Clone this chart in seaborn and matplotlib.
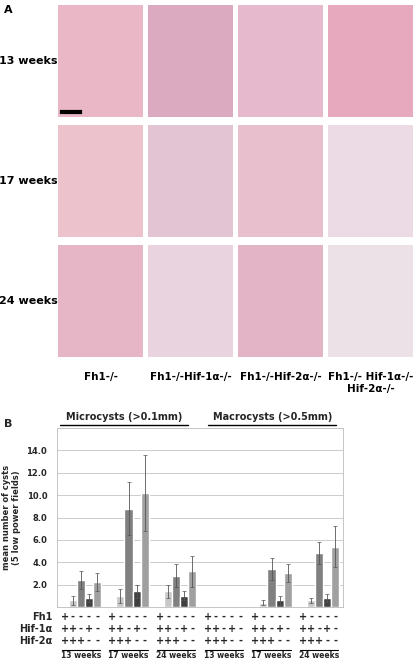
import matplotlib
matplotlib.use("Agg")
import matplotlib.pyplot as plt
import matplotlib.transforms as mtransforms
import numpy as np
import pandas as pd
import seaborn as sns

# panel A labels
row_labels = ["13 weeks", "17 weeks", "24 weeks"]
col_labels = ["Fh1-/-", "Fh1-/-Hif-1\u03b1-/-", "Fh1-/-Hif-2\u03b1-/-", "Fh1-/- Hif-1\u03b1-/-\nHif-2\u03b1-/-"]

# panel B data
groups = ["13w micro", "17w micro", "24w micro", "13w macro", "17w macro", "24w macro"]
week_labels = ["13 weeks", "17 weeks", "24 weeks", "13 weeks", "17 weeks", "24 weeks"]
genotypes = ["g1", "g2", "g3", "g4", "g5"]
fh1_signs = ["+", "-", "-", "-", "-"]
hif1_signs = ["+", "+", "-", "+", "-"]
hif2_signs = ["+", "+", "+", "-", "-"]
means = [
    [0, 0.6, 2.4, 0.8, 2.2],
    [0, 1.0, 8.8, 1.4, 10.2],
    [0, 1.4, 2.8, 1.0, 3.2],
    [0, 0, 0, 0, 0],
    [0, 0.4, 3.4, 0.6, 3.0],
    [0, 0.6, 4.8, 0.8, 5.4],
]
errs = [
    [0, 0.4, 0.8, 0.35, 0.8],
    [0, 0.6, 2.4, 0.6, 3.4],
    [0, 0.6, 1.0, 0.4, 1.4],
    [0, 0, 0, 0, 0],
    [0, 0.2, 1.0, 0.4, 0.8],
    [0, 0.2, 1.0, 0.35, 1.8],
]
bar_colors = ["#ffffff", "#c8c8c8", "#808080", "#404040", "#a0a0a0"]
tissue_colors = [["#e9b7c6", "#dba9c0", "#e6b9cc", "#e7a9bd"],
                 ["#ecc3cd", "#e2c4d3", "#e8bfcd", "#ecdbe4"],
                 ["#e6b5c6", "#e8d3de", "#e3b3c6", "#ede1e8"]]

rows = []
for g, m_row, e_row in zip(groups, means, errs):
    for gt, m, e in zip(genotypes, m_row, e_row):
        rows.append({"group": g, "genotype": gt, "mean": m, "err": e})
df = pd.DataFrame(rows)

fig = plt.figure(figsize=(4.15, 6.59), dpi=100)
W, H = 415, 659

def fx(px):
    return px / W

def fy(py):
    return 1 - py / H

# ---- panel A ----
fig.text(fx(4), fy(10), "A", fontsize=8, fontweight="bold", va="center")
col_x = [58, 148, 238, 328]
row_y = [5, 125, 245]
cw, ch = 85, 112
for r in range(3):
    for c in range(4):
        a = fig.add_axes([fx(col_x[c]), fy(row_y[r] + ch), fx(cw), ch / H])
        a.set_facecolor(tissue_colors[r][c])
        a.set_xticks([])
        a.set_yticks([])
        for s in a.spines.values():
            s.set_visible(False)
    fig.text(fx(28), fy(row_y[r] + ch / 2), row_labels[r], fontsize=8,
             fontweight="bold", ha="center", va="center")
for c in range(4):
    fig.text(fx(col_x[c] + cw / 2), fy(372), col_labels[c], fontsize=7.5,
             fontweight="bold", ha="center", va="top", linespacing=1.3)
fig.add_artist(plt.Line2D([fx(62), fx(80)], [fy(112), fy(112)], color="black", lw=3))

# ---- panel B ----
sns.set_style("white")
ax = fig.add_axes([fx(57), fy(607), fx(343 - 57), (607 - 428) / H])
sns.barplot(data=df, x="group", y="mean", hue="genotype", palette=bar_colors,
            ax=ax, errorbar=None, width=0.85, legend=False, saturation=1)
# patches are ordered by hue then group
bar_x = np.zeros((len(groups), len(genotypes)))
for i, gt in enumerate(genotypes):
    sub = df[df.genotype == gt]
    for j, (m, e) in enumerate(zip(sub["mean"], sub["err"])):
        p = ax.patches[i * len(groups) + j]
        bar_x[j, i] = p.get_x() + p.get_width() / 2
        if e > 0:
            ax.errorbar(bar_x[j, i], m, yerr=e, fmt="none",
                        ecolor="#555555", elinewidth=0.6, capsize=1.2, capthick=0.5)
ax.set_xlim(-0.5, len(groups) - 0.5)
ax.set_ylim(0, 16)
ax.set_yticks(np.arange(2, 16, 2))
ax.set_yticklabels([f"{v:.1f}" for v in np.arange(2, 16, 2)], fontsize=6, fontweight="bold")
ax.yaxis.grid(True, color="#cccccc", lw=0.7)
ax.set_axisbelow(True)
ax.set_xticks([])
ax.set_xlabel("")
ax.set_ylabel("mean number of cysts\n(5 low power fields)", fontsize=6, fontweight="bold")
for s in ax.spines.values():
    s.set_color("#bbbbbb")
    s.set_linewidth(0.6)

fig.text(fx(4), fy(424), "B", fontsize=8, fontweight="bold", va="center")
fig.text(fx(124), fy(420), "Microcysts (>0.1mm)", fontsize=7, fontweight="bold", ha="center")
fig.text(fx(273), fy(420), "Macrocysts (>0.5mm)", fontsize=7, fontweight="bold", ha="center")
fig.add_artist(plt.Line2D([fx(60), fx(188)], [fy(425), fy(425)], color="black", lw=1))
fig.add_artist(plt.Line2D([fx(208), fx(336)], [fy(425), fy(425)], color="black", lw=1))

trans = mtransforms.blended_transform_factory(ax.transData, fig.transFigure)
for lab, signs, py in [("Fh1", fh1_signs, 617), ("Hif-1\u03b1", hif1_signs, 629), ("Hif-2\u03b1", hif2_signs, 641)]:
    fig.text(fx(52), fy(py), lab, fontsize=7, fontweight="bold", ha="right", va="center")
    for j in range(len(groups)):
        for i, sgn in enumerate(signs):
            fig.text(bar_x[j, i], fy(py), sgn, fontsize=7, fontweight="bold",
                     ha="center", va="center", transform=trans)
for j, wl in enumerate(week_labels):
    fig.add_artist(plt.Line2D([j - 0.4, j + 0.4], [fy(650), fy(650)], color="black", lw=0.8,
                              transform=trans))
    fig.text(j, fy(655), wl, fontsize=5.5, fontweight="bold", ha="center", va="center",
             transform=trans)

fig.savefig("out.png", dpi=100)
